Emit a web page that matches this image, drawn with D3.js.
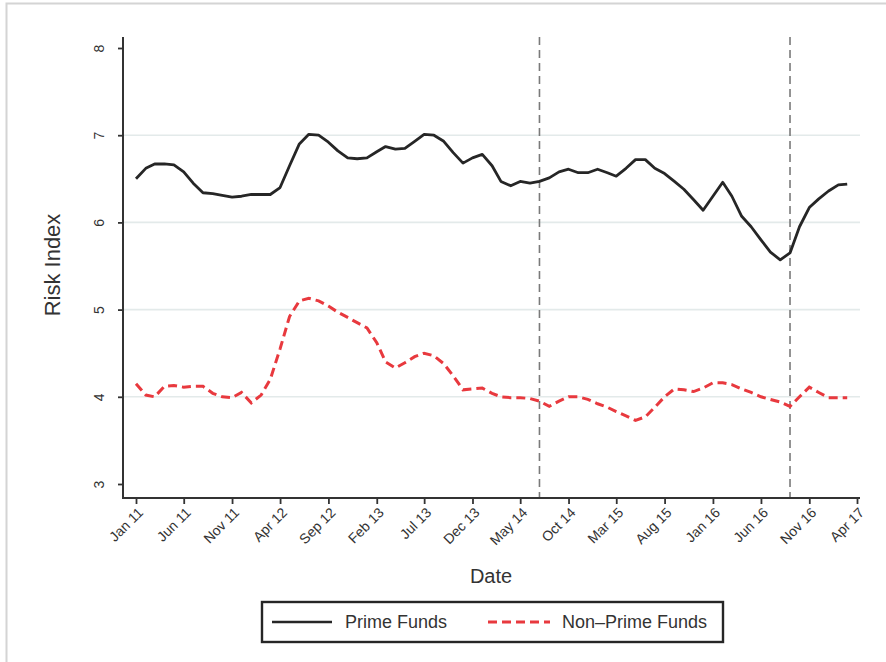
<!DOCTYPE html>
<html>
<head>
<meta charset="utf-8">
<script src="https://cdn.jsdelivr.net/npm/d3@7"></script>
<style>
  html, body { margin: 0; padding: 0; background: #fff; }
  svg { display: block; font-family: "Liberation Sans", Arial, sans-serif; }
</style>
</head>
<body>
<svg id="chart" width="886" height="662"></svg>
<script>
// Monthly risk index, Jan 2011 onwards
const startMonth = "2011-01";
const primeFunds = [
  6.50, 6.62, 6.67, 6.67, 6.66, 6.58, 6.45, 6.34, 6.33, 6.31, 6.29, 6.30,
  6.32, 6.32, 6.32, 6.40, 6.65, 6.90, 7.01, 7.00, 6.92, 6.82, 6.74, 6.73,
  6.74, 6.81, 6.87, 6.84, 6.85, 6.93, 7.01, 7.00, 6.93, 6.80, 6.68, 6.74,
  6.78, 6.65, 6.47, 6.42, 6.47, 6.45, 6.47, 6.51, 6.58, 6.61, 6.57, 6.57,
  6.61, 6.57, 6.53, 6.62, 6.72, 6.72, 6.62, 6.56, 6.47, 6.38, 6.26, 6.14,
  6.30, 6.46, 6.30, 6.07, 5.95, 5.80, 5.66, 5.57, 5.65, 5.95, 6.17, 6.27,
  6.36, 6.43, 6.44
];
const nonPrimeFunds = [
  4.15, 4.02, 4.00, 4.12, 4.13, 4.11, 4.12, 4.12, 4.04, 4.00, 3.99, 4.05,
  3.93, 4.02, 4.20, 4.55, 4.92, 5.10, 5.13, 5.10, 5.04, 4.97, 4.91, 4.85,
  4.79, 4.62, 4.40, 4.33, 4.39, 4.46, 4.50, 4.47, 4.38, 4.24, 4.08, 4.09,
  4.10, 4.04, 4.00, 3.99, 3.99, 3.98, 3.95, 3.89, 3.95, 4.00, 4.00, 3.97,
  3.92, 3.88, 3.83, 3.78, 3.73, 3.77, 3.88, 4.00, 4.09, 4.08, 4.06, 4.10,
  4.16, 4.16, 4.14, 4.09, 4.05, 4.00, 3.97, 3.94, 3.89, 4.00, 4.11, 4.05,
  3.99, 3.99, 3.99
];
const xTickMonths = ["2011-01", "2011-06", "2011-11", "2012-04", "2012-09", "2013-02",
  "2013-07", "2013-12", "2014-05", "2014-10", "2015-03", "2015-08", "2016-01",
  "2016-06", "2016-11", "2017-04"];
const xTickLabels = ["Jan 11", "Jun 11", "Nov 11", "Apr 12", "Sep 12", "Feb 13",
  "Jul 13", "Dec 13", "May 14", "Oct 14", "Mar 15", "Aug 15", "Jan 16",
  "Jun 16", "Nov 16", "Apr 17"];
const yTicks = [3, 4, 5, 6, 7, 8];
const gridValues = [4, 5, 6, 7];
const eventMonths = ["2014-07", "2016-09"];
const seriesNames = ["Prime Funds", "Non\u2013Prime Funds"];

const parseMonth = d3.timeParse("%Y-%m");
const start = parseMonth(startMonth);
const dates = primeFunds.map((_, i) => d3.timeMonth.offset(start, i));

const svg = d3.select("#chart");

// outer frame of the figure
svg.append("path")
  .attr("d", "M6.5,662 V3.5 H886")
  .attr("fill", "none").attr("stroke", "#d4d4d4").attr("stroke-width", 2);

const axisLeftX = 123, axisBottomY = 498, axisTopY = 37, axisRightX = 860;

const x = d3.scaleTime()
  .domain([parseMonth("2011-01"), parseMonth("2017-04")])
  .range([136, 857]);
const y = d3.scaleLinear().domain([3, 8]).range([484, 48]);

// horizontal grid
svg.append("g").selectAll("line").data(gridValues).join("line")
  .attr("x1", axisLeftX + 1).attr("x2", axisRightX)
  .attr("y1", d => y(d)).attr("y2", d => y(d))
  .attr("stroke", "#e3eaea").attr("stroke-width", 1.6);

// event markers
svg.append("g").selectAll("line").data(eventMonths).join("line")
  .attr("x1", d => x(parseMonth(d))).attr("x2", d => x(parseMonth(d)))
  .attr("y1", axisTopY).attr("y2", axisBottomY)
  .attr("stroke", "#7a7a7a").attr("stroke-width", 1.6)
  .attr("stroke-dasharray", "8,5");

// y axis
const yAxis = svg.append("g").attr("transform", `translate(${axisLeftX},0)`)
  .call(d3.axisLeft(y).tickValues(yTicks).tickSize(5).tickPadding(0).tickFormat(d3.format("d")));
yAxis.select(".domain").remove();
yAxis.selectAll(".tick line").attr("stroke", "#333").attr("stroke-width", 1.8);
yAxis.selectAll(".tick text")
  .attr("x", 0).attr("y", 0).attr("dy", null)
  .attr("text-anchor", "middle")
  .attr("transform", "translate(-24,0) rotate(-90)")
  .attr("dominant-baseline", "central")
  .attr("fill", "#333").attr("font-size", 14);
svg.append("line")
  .attr("x1", axisLeftX).attr("x2", axisLeftX)
  .attr("y1", axisTopY).attr("y2", axisBottomY)
  .attr("stroke", "#333").attr("stroke-width", 2);

// x axis
const xAxis = svg.append("g").attr("transform", `translate(0,${axisBottomY})`)
  .call(d3.axisBottom(x).tickValues(xTickMonths.map(parseMonth)).tickSize(6)
    .tickFormat((d, i) => xTickLabels[i]));
xAxis.select(".domain").remove();
xAxis.selectAll(".tick line").attr("stroke", "#333").attr("stroke-width", 1.8);
xAxis.selectAll(".tick text")
  .attr("x", 0).attr("y", 0).attr("dy", null)
  .attr("text-anchor", "end")
  .attr("transform", "translate(4,12) rotate(-45)")
  .attr("dominant-baseline", "central")
  .attr("fill", "#333").attr("font-size", 14);
svg.append("line")
  .attr("x1", axisLeftX - 1).attr("x2", axisRightX)
  .attr("y1", axisBottomY).attr("y2", axisBottomY)
  .attr("stroke", "#333").attr("stroke-width", 2);

// axis titles
svg.append("text").text("Risk Index")
  .attr("transform", "translate(60,265) rotate(-90)")
  .attr("text-anchor", "middle").attr("fill", "#333").attr("font-size", 22);
svg.append("text").text("Date")
  .attr("x", 491).attr("y", 583)
  .attr("text-anchor", "middle").attr("fill", "#333").attr("font-size", 20);

// series
const line = d3.line().x((d, i) => x(dates[i])).y(d => y(d));
svg.append("path").datum(primeFunds)
  .attr("d", line).attr("fill", "none")
  .attr("stroke", "#262626").attr("stroke-width", 2.8)
  .attr("stroke-linejoin", "round");
svg.append("path").datum(nonPrimeFunds)
  .attr("d", line).attr("fill", "none")
  .attr("stroke", "#e8393e").attr("stroke-width", 3)
  .attr("stroke-dasharray", "9,5");

// legend
const legend = svg.append("g");
legend.append("rect")
  .attr("x", 262).attr("y", 602).attr("width", 461).attr("height", 40)
  .attr("fill", "#fff").attr("stroke", "#262626").attr("stroke-width", 2.4);
legend.append("line")
  .attr("x1", 272).attr("x2", 332).attr("y1", 622).attr("y2", 622)
  .attr("stroke", "#262626").attr("stroke-width", 2.6);
legend.append("text").text(seriesNames[0])
  .attr("x", 345).attr("y", 628).attr("fill", "#333").attr("font-size", 18);
legend.append("line")
  .attr("x1", 488).attr("x2", 550).attr("y1", 622).attr("y2", 622)
  .attr("stroke", "#e8393e").attr("stroke-width", 3)
  .attr("stroke-dasharray", "9,5");
legend.append("text").text(seriesNames[1])
  .attr("x", 562).attr("y", 628).attr("fill", "#333").attr("font-size", 18);
</script>
</body>
</html>
